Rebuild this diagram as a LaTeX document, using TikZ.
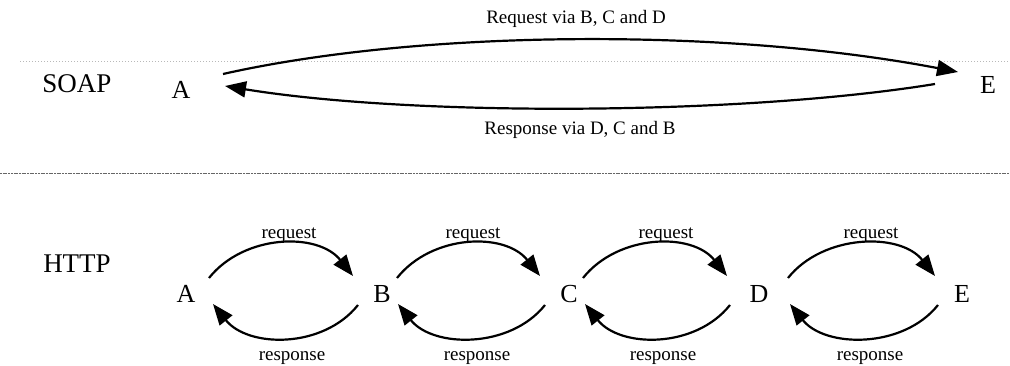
\documentclass[tikz,border=0pt]{standalone}
\usepackage{fontspec}
\setmainfont{Liberation Serif}
\usetikzlibrary{arrows.meta,calc}
\begin{document}
\begin{tikzpicture}[x=1pt,y=1pt,
  letter/.style={inner sep=0pt, font=\fontsize{26}{30}\selectfont},
  heading/.style={inner sep=0pt, anchor=base, font=\fontsize{27}{32}\selectfont},
  caption/.style={inner sep=0pt, anchor=base, font=\fontsize{19}{23}\selectfont},
  flow/.style={line width=2.2pt, -{Triangle[length=21pt,width=16pt]}},
  faint rule/.style={gray!55, line width=0.8pt, dash pattern=on 1pt off 2pt},
  dark rule/.style={black!60, line width=0.9pt, dash pattern=on 2pt off 0.7pt},
]
\useasboundingbox (0,0) rectangle (1010,366);

% separating rules
\draw[faint rule] (20,305) -- (1010,305);
\draw[dark rule] (0,193) -- (1010,193);

% ---------- SOAP: one round trip from A to E ----------
\node[heading] (soap) at (77,273) {SOAP};
\node[letter] (sA) at (181,276) {A};
\node[letter] (sE) at (988,281) {E};

\draw[flow] ($(sA)+(42,16)$) .. controls +(200,45) and +(-230,44) .. ($(sE)+(-30,13)$);
\draw[flow] ($(sE)+(-53,1)$) .. controls +(-190,-31) and +(190,-31) .. ($(sA)+(44,4)$);

\node[caption] (soapreq) at (576,342) {Request via B, C and D};
\node[caption] (soapresp) at (580,231) {Response via D, C and B};

% ---------- HTTP: hop by hop ----------
\node[heading] (http) at (77,93) {HTTP};
\node[letter] (hA) at (186,72) {A};
\node[letter] (hB) at (382,72) {B};
\node[letter] (hC) at (569,72) {C};
\node[letter] (hD) at (759,72) {D};
\node[letter] (hE) at (962,72) {E};

% requests (upper arcs)
\draw[flow] ($(hA)+(23,16)$) .. controls +(35,44) and +(-35,44) .. ($(hB)+(-29,18)$);
\draw[flow] ($(hB)+(15,16)$) .. controls +(35,44) and +(-35,44) .. ($(hC)+(-29,18)$);
\draw[flow] ($(hC)+(14,16)$) .. controls +(35,44) and +(-35,44) .. ($(hD)+(-32,18)$);
\draw[flow] ($(hD)+(29,16)$) .. controls +(35,44) and +(-35,44) .. ($(hE)+(-27,18)$);

% responses (lower arcs)
\draw[flow] ($(hB)+(-24,-11)$) .. controls +(-35,-44) and +(35,-44) .. ($(hA)+(27,-10)$);
\draw[flow] ($(hC)+(-24,-11)$) .. controls +(-35,-44) and +(35,-44) .. ($(hB)+(16,-10)$);
\draw[flow] ($(hD)+(-29,-11)$) .. controls +(-35,-44) and +(35,-44) .. ($(hC)+(16,-10)$);
\draw[flow] ($(hE)+(-24,-11)$) .. controls +(-35,-44) and +(35,-44) .. ($(hD)+(31,-10)$);

% arc labels
\node[caption] (rq1) at (289,127) {request};
\node[caption] (rq2) at (473,127) {request};
\node[caption] (rq3) at (666,127) {request};
\node[caption] (rq4) at (871,127) {request};
\node[caption] (rs1) at (292,5) {response};
\node[caption] (rs2) at (477,5) {response};
\node[caption] (rs3) at (663,5) {response};
\node[caption] (rs4) at (870,5) {response};
\end{tikzpicture}
\end{document}
